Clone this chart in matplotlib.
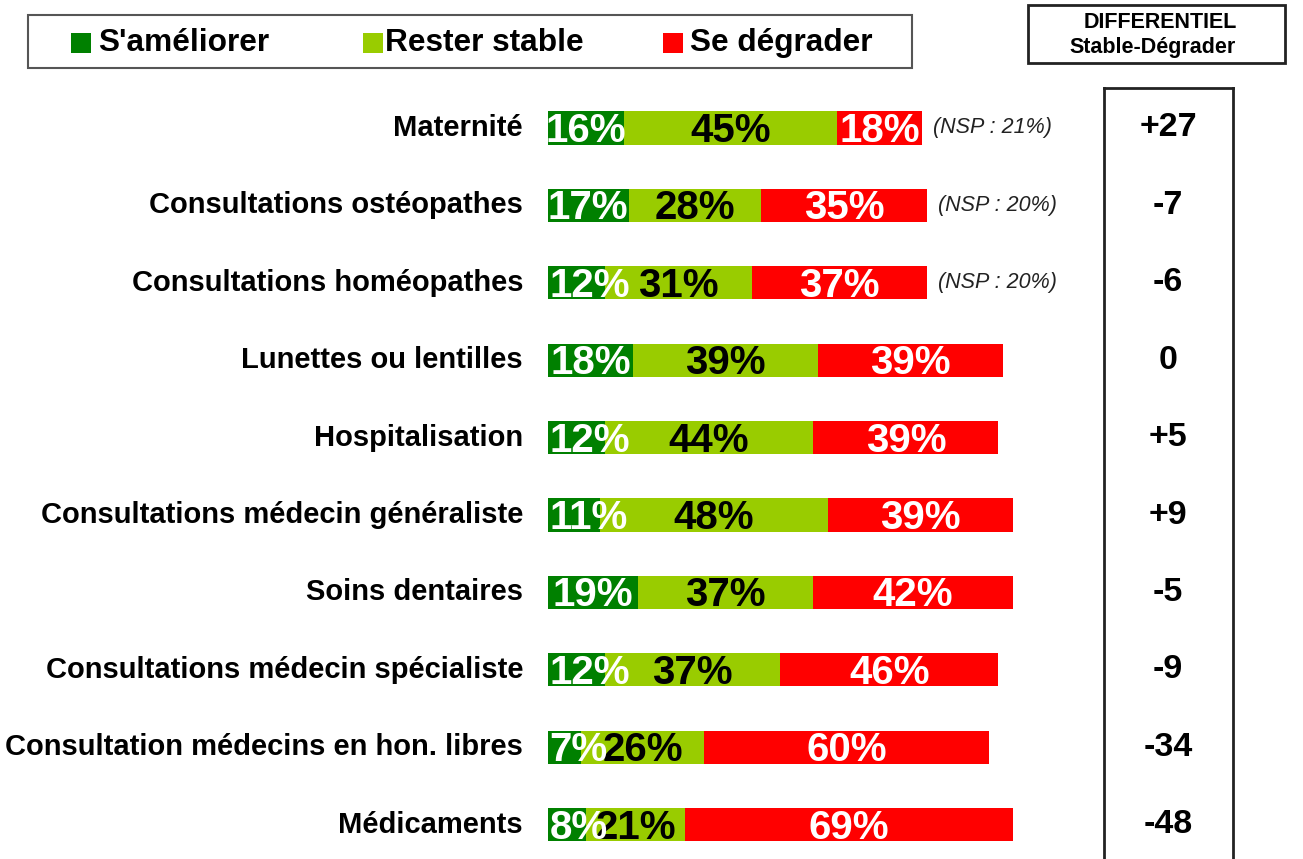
import matplotlib.pyplot as plt
from matplotlib.patches import Rectangle
from matplotlib.lines import Line2D
from matplotlib.transforms import blended_transform_factory

plt.rcParams["font.family"] = ["Liberation Sans", "DejaVu Sans"]

categories = [
    "Maternité",
    "Consultations ostéopathes",
    "Consultations homéopathes",
    "Lunettes ou lentilles",
    "Hospitalisation",
    "Consultations médecin généraliste",
    "Soins dentaires",
    "Consultations médecin spécialiste",
    "Consultation médecins en hon. libres",
    "Médicaments",
]
ameliorer = [16, 17, 12, 18, 12, 11, 19, 12, 7, 8]
stable = [45, 28, 31, 39, 44, 48, 37, 37, 26, 21]
degrader = [18, 35, 37, 39, 39, 39, 42, 46, 60, 69]
nsp = ["(NSP : 21%)", "(NSP : 20%)", "(NSP : 20%)", None, None, None, None, None, None, None]
differentiel = ["+27", "-7", "-6", "0", "+5", "+9", "-5", "-9", "-34", "-48"]

series_names = ["S'améliorer", "Rester stable", "Se dégrader"]
colors = ["#008000", "#99CC00", "#FF0000"]
text_colors = ["white", "black", "white"]

W, H = 1303, 859
fig = plt.figure(figsize=(W / 100, H / 100), dpi=100)
ax = fig.add_axes([0, 0, 1, 1])
ax.set_axis_off()

# pixel geometry: bars start at x=548px, 4.74 px per percent, rows every 77.4 px from y=128
PX_PER_PCT = 4.74
X0 = 548
ax.set_xlim(-X0 / PX_PER_PCT, (W - X0) / PX_PER_PCT)
ax.set_ylim((H - 128) / 77.4, -128 / 77.4)


def fx(px):
    return px / W


def fy(py):
    return 1 - py / H


tr = blended_transform_factory(fig.transFigure, ax.transData)

rows = range(len(categories))
for i in rows:
    segs = [ameliorer[i], stable[i], degrader[i]]
    left = 0
    ty = i + 0.04
    for k, v in enumerate(segs):
        ax.barh(i, v, left=left, height=0.43, color=colors[k], edgecolor="none")
        if k == 0 and v < 15:
            ax.text(left + 0.3, ty, f"{v}%", ha="left", va="center", fontsize=29,
                    fontweight="bold", color=text_colors[k], zorder=5)
        else:
            ax.text(left + v / 2, ty, f"{v}%", ha="center", va="center", fontsize=29,
                    fontweight="bold", color=text_colors[k], zorder=4)
        left += v
    if nsp[i]:
        ax.text(left + 2.3, i, nsp[i], ha="left", va="center", fontsize=15.5,
                style="italic", color="#222222")
    ax.text(fx(523), i, categories[i], transform=tr, ha="right", va="center",
            fontsize=21, fontweight="bold")
    ax.text(fx(1168), i, differentiel[i], transform=tr, ha="center", va="center",
            fontsize=24.5, fontweight="bold")

# legend box
fig.add_artist(Rectangle((fx(28), fy(68)), fx(912) - fx(28), fy(15) - fy(68),
                         transform=fig.transFigure, fill=False, edgecolor="#555555", lw=1.5))
legend_items = [(71, 98), (363, 385), (663, 690)]
for (sq, tx), name, c in zip(legend_items, series_names, colors):
    fig.add_artist(Rectangle((fx(sq), fy(53)), fx(20), 20 / H, transform=fig.transFigure,
                             facecolor=c, edgecolor="none"))
    fig.text(fx(tx), fy(43), name, ha="left", va="center", fontsize=22.8, fontweight="bold")

# DIFFERENTIEL header box
fig.add_artist(Rectangle((fx(1028), fy(63)), fx(1285) - fx(1028), fy(5) - fy(63),
                         transform=fig.transFigure, fill=False, edgecolor="#222222", lw=2))
fig.text(fx(1160), fy(22), "DIFFERENTIEL", ha="center", va="center", fontsize=15.5, fontweight="bold")
fig.text(fx(1153), fy(48), "Stable-Dégrader", ha="center", va="center", fontsize=15.5, fontweight="bold")

# open column box for differential values
for xs, ys in [([1104, 1104], [H, 88]), ([1104, 1233], [88, 88]), ([1233, 1233], [88, H])]:
    fig.add_artist(Line2D([fx(x) for x in xs], [fy(y) for y in ys],
                          transform=fig.transFigure, color="#222222", lw=2))

fig.savefig("out.png", dpi=100)
